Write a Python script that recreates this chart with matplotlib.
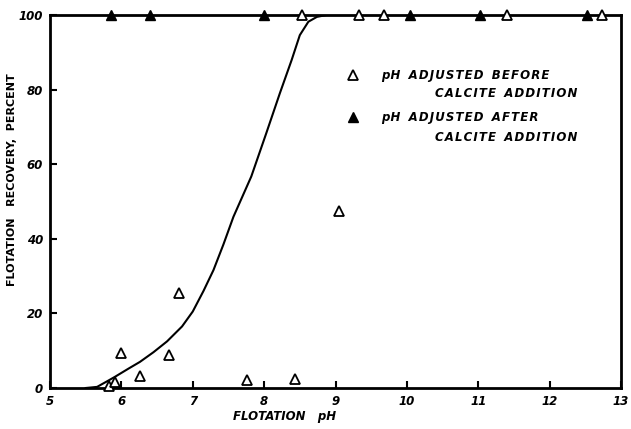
import matplotlib.pyplot as plt
from matplotlib.lines import Line2D

# open triangles: pH adjusted before calcite addition
before_ph = [5.82, 5.91, 5.99, 6.26, 6.67, 6.81, 7.76, 8.43, 9.05,
             8.53, 9.33, 9.68, 11.40, 12.73]
before_rec = [0.5, 1.6, 9.4, 3.2, 8.8, 25.5, 2.1, 2.4, 47.5,
              100, 100, 100, 100, 100]

# filled triangles: pH adjusted after calcite addition
after_ph = [5.85, 6.40, 8.00, 10.04, 11.02, 12.53]
after_rec = [100, 100, 100, 100, 100, 100]

# smooth curve
curve_ph = [5.50, 5.66, 5.80, 5.91, 6.10, 6.26, 6.45, 6.64, 6.85, 7.00, 7.15,
            7.29, 7.43, 7.57, 7.82, 8.03, 8.22, 8.385, 8.50, 8.62, 8.74, 8.875]
curve_rec = [0, 0.3, 1.8, 3.0, 5.2, 7.0, 9.6, 12.5, 16.5, 20.5, 26.0,
             31.6, 38.5, 45.9, 56.7, 68.3, 79.0, 87.9, 94.6, 98.2, 99.5, 100]

xticks = [5, 6, 7, 8, 9, 10, 11, 12, 13]
yticks = [0, 20, 40, 60, 80, 100]


def sp(s):
    # hand lettering is widely spaced: put a hair space between letters
    return '\u200a'.join(s)


plt.rcParams['font.family'] = 'DejaVu Sans'
fig = plt.figure(figsize=(6.31, 4.29), dpi=100)
ax = fig.add_axes([50 / 631, 1 - 388 / 429, 571 / 631, 373 / 429])

ax.plot(curve_ph, curve_rec, color='black', lw=1.5, zorder=2)
ax.plot(before_ph, before_rec, ls='none', marker='^', ms=7.5, mfc='white',
        mec='black', mew=1.3, clip_on=False, zorder=3)
ax.plot(after_ph, after_rec, ls='none', marker='^', ms=7.5, mfc='black',
        mec='black', clip_on=False, zorder=3)

ax.set_xlim(5, 13)
ax.set_ylim(0, 100)
ax.set_xticks(xticks)
ax.set_yticks(yticks)
ax.tick_params(direction='in', length=5, width=1.5, labelsize=8.5,
               top=False, right=False, pad=5)
for s in ax.spines.values():
    s.set_linewidth(2)
for lab in ax.get_xticklabels() + ax.get_yticklabels():
    lab.set_fontweight('bold')
    lab.set_fontstyle('italic')

ax.set_xlabel('FLOTATION   pH', fontsize=8.5, fontweight='bold', fontstyle='italic')
ax.xaxis.set_label_coords(0.41, -0.058)
ax.set_ylabel('FLOTATION   RECOVERY,  PERCENT', fontsize=8, fontweight='bold')
ax.yaxis.set_label_coords(-0.058, 0.558)

handles = [
    Line2D([], [], ls='none', marker='^', ms=7.5, mfc='white', mec='black', mew=1.3),
    Line2D([], [], ls='none', marker='^', ms=7.5, mfc='black', mec='black'),
]
labels = [sp('pH') + '  ' + sp('ADJUSTED') + '  ' + sp('BEFORE'),
          sp('pH') + '  ' + sp('ADJUSTED') + '  ' + sp('AFTER')]
leg = ax.legend(handles, labels, loc='upper left', bbox_to_anchor=(0.52, 0.855),
                frameon=False, handletextpad=1.9, labelspacing=2.45,
                handlelength=1.0, borderaxespad=0, borderpad=0,
                prop={'weight': 'bold', 'style': 'italic', 'size': 8.5})
second = {'fontsize': 8.5, 'fontweight': 'bold', 'fontstyle': 'italic',
          'va': 'center', 'ha': 'left', 'transform': ax.transAxes}
ax.text(0.675, 0.79, sp('CALCITE') + '  ' + sp('ADDITION'), **second)
ax.text(0.675, 0.672, sp('CALCITE') + '  ' + sp('ADDITION'), **second)

fig.savefig('out.png', dpi=100)
